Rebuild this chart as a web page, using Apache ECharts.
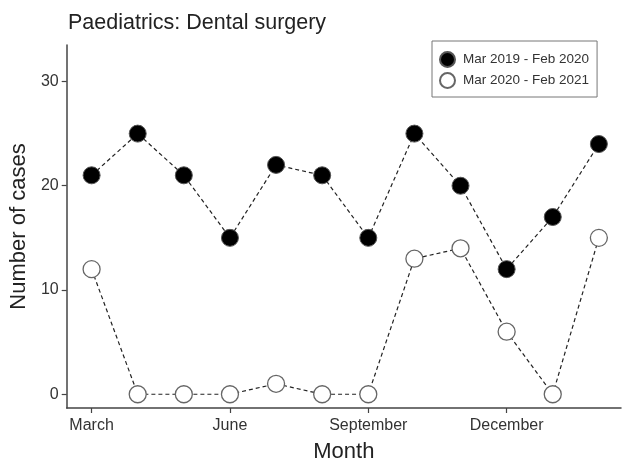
<!DOCTYPE html>
<html>
<head>
<meta charset="utf-8">
<script src="https://cdn.jsdelivr.net/npm/echarts@6/dist/echarts.min.js"></script>
<style>
  html, body { margin: 0; padding: 0; background: #fff; }
  #chart { width: 624px; height: 468px; }
</style>
</head>
<body>
<div id="chart"></div>
<script>
// Monthly case counts, March through February
const months = ['Mar', 'Apr', 'May', 'Jun', 'Jul', 'Aug', 'Sep', 'Oct', 'Nov', 'Dec', 'Jan', 'Feb'];
const cases2019 = [21, 25, 21, 15, 22, 21, 15, 25, 20, 12, 17, 24];
const cases2020 = [12, 0, 0, 0, 1, 0, 0, 13, 14, 6, 0, 15];
const seriesNames = ['Mar 2019 - Feb 2020', 'Mar 2020 - Feb 2021'];
const xTickPositions = [0, 3, 6, 9];
const xTickLabels = ['March', 'June', 'September', 'December'];
const yTicks = [0, 10, 20, 30];

const FONT = '"Liberation Sans", Arial, sans-serif';
const toPoints = arr => arr.map((v, i) => [i, v]);

const chart = echarts.init(document.getElementById('chart'), null, { renderer: 'canvas' });

chart.setOption({
  animation: false,
  backgroundColor: '#ffffff',
  title: {
    text: 'Paediatrics: Dental surgery',
    left: 63,
    top: 7,
    textStyle: { fontFamily: FONT, fontSize: 21.5, fontWeight: 'normal', color: '#222' }
  },
  legend: {
    left: 432,
    top: 41,
    orient: 'vertical',
    itemGap: 4,
    itemWidth: 15,
    itemHeight: 15,
    padding: [10, 8, 8, 7],
    borderColor: '#777',
    borderWidth: 1,
    icon: 'circle',
    data: seriesNames,
    textStyle: { fontFamily: FONT, fontSize: 13.5, color: '#333', padding: [0, 0, 0, 3] }
  },
  grid: { left: 66, right: 3, top: 45, bottom: 54, containLabel: false },
  xAxis: {
    type: 'value',
    min: -0.54,
    max: 11.48,
    name: 'Month',
    nameLocation: 'middle',
    nameGap: 33,
    nameTextStyle: { fontFamily: FONT, fontSize: 22, color: '#222' },
    axisLine: { show: true, onZero: false, lineStyle: { color: '#444', width: 1.5 } },
    axisTick: { show: true, customValues: xTickPositions, length: 5, lineStyle: { color: '#444', width: 1.2 } },
    axisLabel: {
      customValues: xTickPositions,
      formatter: v => xTickLabels[xTickPositions.indexOf(Math.round(v))] || '',
      fontFamily: FONT, fontSize: 16, color: '#333', margin: 10
    },
    splitLine: { show: false }
  },
  yAxis: {
    type: 'value',
    min: -1.32,
    max: 33.5,
    name: 'Number of cases',
    nameLocation: 'middle',
    nameGap: 33,
    nameTextStyle: { fontFamily: FONT, fontSize: 22, color: '#222' },
    axisLine: { show: true, onZero: false, lineStyle: { color: '#444', width: 1.5 } },
    axisTick: { show: true, customValues: yTicks, length: 5, lineStyle: { color: '#444', width: 1.2 } },
    axisLabel: {
      customValues: yTicks,
      fontFamily: FONT, fontSize: 16, color: '#333', margin: 8
    },
    splitLine: { show: false }
  },
  series: [
    {
      name: seriesNames[0],
      type: 'line',
      data: toPoints(cases2019),
      symbol: 'circle',
      symbolSize: 17,
      z: 3,
      lineStyle: { color: '#222', width: 1.2, type: [4, 3] },
      itemStyle: { color: '#000', borderColor: '#555', borderWidth: 1 }
    },
    {
      name: seriesNames[1],
      type: 'line',
      data: toPoints(cases2020),
      symbol: 'circle',
      symbolSize: 17,
      z: 2,
      lineStyle: { color: '#222', width: 1.2, type: [4, 3] },
      itemStyle: { color: '#fff', borderColor: '#666', borderWidth: 1.3 }
    }
  ]
});
</script>
</body>
</html>
